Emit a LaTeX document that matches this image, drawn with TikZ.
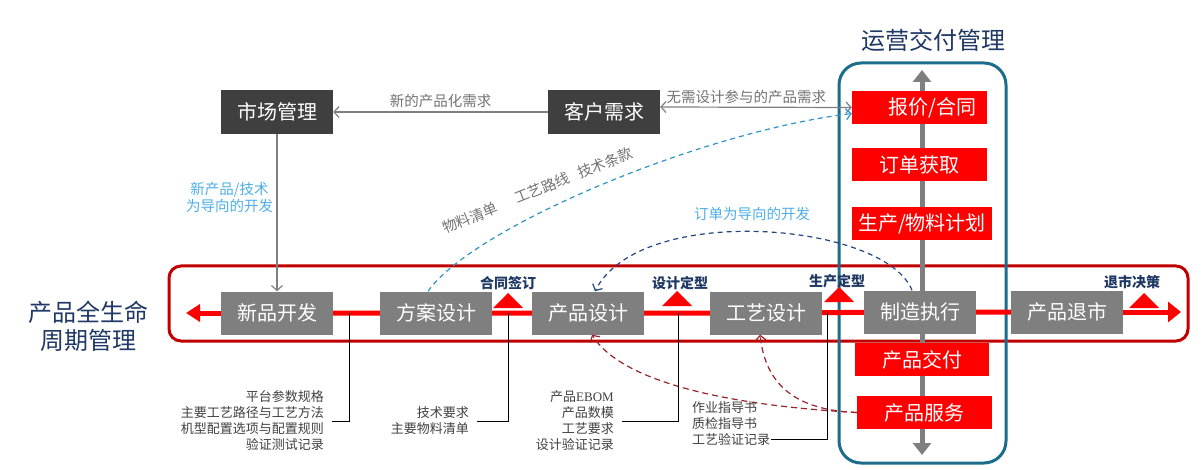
\documentclass[tikz,border=0pt]{standalone}
\usepackage{fontspec}
\setmainfont{Noto Sans CJK SC}
\newfontfamily\ebomfont{Liberation Serif}
\usepackage{tikz}
\usetikzlibrary{arrows.meta,positioning,backgrounds}
\definecolor{boxdark}{HTML}{3F3F3F}
\definecolor{boxgray}{HTML}{7F7F7F}
\definecolor{titleblue}{HTML}{1F3864}
\definecolor{labelblue}{HTML}{4DAEE6}
\definecolor{curveblue}{HTML}{2E93C8}
\definecolor{curvenavy}{HTML}{24467F}
\definecolor{curvered}{HTML}{98242A}
\definecolor{bandred}{HTML}{C00000}
\definecolor{opsblue}{HTML}{1C6C8C}
\definecolor{notegray}{HTML}{404040}

\begin{document}
\begin{tikzpicture}[x=1pt, y=-1pt, >={Straight Barb[length=5pt,width=11pt]},
  darkbox/.style={fill=boxdark, text=white, minimum width=112pt, minimum height=44pt, inner sep=0pt, font=\fontsize{20}{24}\selectfont},
  stagebox/.style={fill=boxgray, text=white, minimum width=112pt, minimum height=43pt, inner sep=0pt, font=\fontsize{20}{24}\selectfont},
  opsbox/.style={fill=red, text=white, minimum height=33pt, inner sep=0pt, font=\fontsize{20}{24}\selectfont},
  bigtitle/.style={text=titleblue, font=\fontsize{24}{28}\selectfont},
  milestone/.style={text=titleblue, font=\fontsize{14}{16}\selectfont\bfseries},
  note/.style={text=notegray, font=\fontsize{13}{16}\selectfont, inner xsep=8pt, inner ysep=0pt},
  flowtext/.style={text=boxgray!90!black, font=\fontsize{14.5}{17}\selectfont},
  guidetext/.style={text=labelblue, font=\fontsize{14.5}{17}\selectfont},
  termtext/.style={text=boxgray!90!black, font=\fontsize{14.5}{17}\selectfont, rotate=22, inner sep=0pt},
  flow/.style={draw=boxgray, line width=1.2pt},
  mainline/.style={draw=red, line width=5pt},
  callout/.style={draw=black, line width=0.9pt},
  quoteflow/.style={draw=curveblue, line width=1.2pt, dash pattern=on 5pt off 4pt, ->},
  orderflow/.style={draw=curvenavy, line width=1.2pt, dash pattern=on 5pt off 4pt, ->},
  servflow/.style={draw=curvered, line width=1.2pt, dash pattern=on 6pt off 4pt, ->}]
  \useasboundingbox (0,0) rectangle (1204,470);

  \node[bigtitle] (opstitle) at (933,40) {运营交付管理};
  \node[bigtitle, align=center] (plmtitle) at (88,326) {产品全生命\\周期管理};

  \node[darkbox] (market) at (277,112) {市场管理};
  \node[darkbox] (demand) at (604,112) {客户需求};

  \node[stagebox] (newdev) at (277,313) {新品开发};
  \node[stagebox] (scheme) at (436,313) {方案设计};
  \node[stagebox] (design) at (588,313) {产品设计};
  \node[stagebox] (process) at (766,313) {工艺设计};
  \node[stagebox] (mfg) at (920,312) {制造执行};
  \node[stagebox] (retire) at (1067,312) {产品退市};

  \node[opsbox, minimum width=135pt] (quote) at (919.5,107.5) {\hspace*{26pt}报价/合同};
  \node[opsbox, minimum width=135pt] (order) at (919.5,164.5) {订单获取};
  \node[opsbox, minimum width=140pt] (plan) at (922,223.5) {生产/物料计划};
  \node[opsbox, minimum width=134pt] (deliver) at (922,359.5) {产品交付};
  \node[opsbox, minimum width=135pt] (service) at (924.5,412.5) {产品服务};

  \coordinate (leftend) at (186,313);
  \coordinate (rightend) at (1181,312);
  \coordinate (opstop) at (922,70);
  \coordinate (opsbot) at (922,455);

  \begin{scope}[on background layer]
    \draw[bandred, line width=3pt, rounded corners=12pt] (169,266) rectangle (1188,341);
    \draw[opsblue, line width=3pt, rounded corners=22pt] (839,63) rectangle (1006,463);
    \draw[boxgray, line width=5pt, {Triangle[length=12pt,width=18pt]}-{Triangle[length=12pt,width=18pt]}] (opsbot) -- (opstop);
    \draw[mainline] (newdev) -- (scheme) -- (design) -- (process) -- (mfg) -- (retire);
    \draw[mainline, -{Triangle[length=14pt,width=17pt]}] (newdev) -- (leftend);
    \draw[mainline, -{Triangle[length=13pt,width=20pt]}] (retire) -- (rightend);
  \end{scope}

  \foreach \x/\yb in {508/308, 677/306, 839/302, 1144/308}
    \fill[red] (\x-15,\yb) -- (\x,\yb-15) -- (\x+15,\yb) -- cycle;
  \node[milestone] (signed) at (508,283) {合同签订};
  \node[milestone] (frozen) at (680,283) {设计定型};
  \node[milestone] (released) at (837,281) {生产定型};
  \node[milestone] (retired) at (1132,282) {退市决策};

  \draw[flow, ->] (demand) -- (market) node[midway, above, flowtext] (needlabel) {新的产品化需求};
  \draw[flow, <->] ([yshift=5pt]demand.east) -- (quote.west) node[pos=0.45, above, flowtext] (directlabel) {无需设计参与的产品需求};
  \draw[flow, ->] (market) -- (newdev) node[pos=0.4, left, guidetext, align=center] (techlabel) {新产品/技术\\为导向的开发};

  \draw[quoteflow] ([xshift=-8pt]scheme.north) .. controls (472,228) and (700,132) .. ([yshift=-6pt]quote.west);
  \node[termtext] (bomlabel) at (470,218) {物料清单};
  \node[termtext] (routelabel) at (542,188) {工艺路线};
  \node[termtext] (termslabel) at (605,163) {技术条款};
  \draw[orderflow] ([xshift=-8pt]mfg.north) .. controls (885,222) and (640,202) .. ([xshift=7pt]design.north);
  \node[guidetext] (orderlabel) at (752,214) {订单为导向的开发};
  \draw[servflow] (service.west) .. controls (720,405) and (620,380) .. ([xshift=4pt]design.south);
  \draw[servflow] (service.west) .. controls (790,410) and (765,380) .. ([xshift=-6pt]process.south);

  \coordinate (tapnew) at (349,313);
  \coordinate (tapsigned) at (508,313);
  \coordinate (tapfrozen) at (678,313);
  \coordinate (tapproc) at (827,313);
  \coordinate (procend) at (771,439);
  \node[note, anchor=east, align=right] (platnotes) at (332,421) {平台参数规格\\主要工艺路径与工艺方法\\机型配置选项与配置规则\\验证测试记录};
  \node[note, anchor=east, align=right] (schemenotes) at (477,421) {技术要求\\主要物料清单};
  \node[note, anchor=east, align=right] (designnotes) at (622,421) {产品{\ebomfont EBOM}\\产品数模\\工艺要求\\设计验证记录};
  \node[note, anchor=west, align=left] (procnotes) at (684,424) {作业指导书\\质检指导书\\工艺验证记录};
  \draw[callout] (tapnew) |- (platnotes);
  \draw[callout] (tapsigned) |- (schemenotes);
  \draw[callout] (tapfrozen) |- (designnotes);
  \draw[callout] (tapproc) |- (procend);
\end{tikzpicture}
\end{document}
